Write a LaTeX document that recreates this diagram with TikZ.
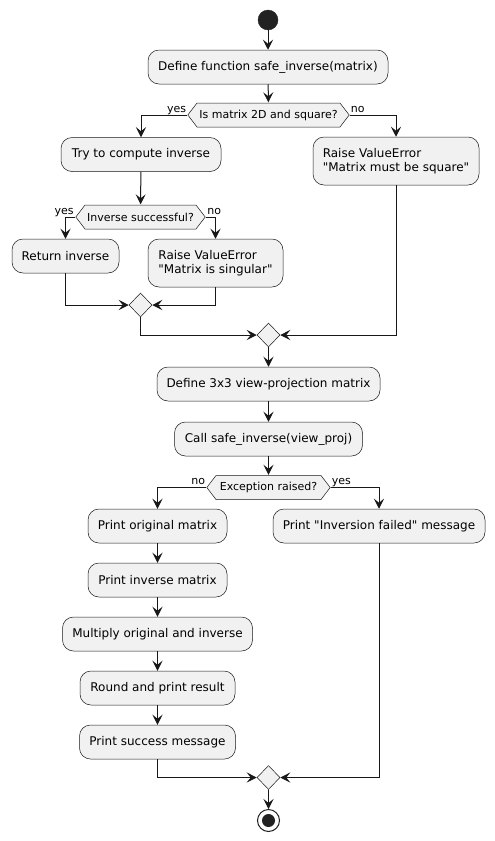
\documentclass[tikz,border=0pt]{standalone}
\usepackage{fontspec}
\setmainfont{DejaVu Sans}[Ligatures=TeXOff]
\usetikzlibrary{arrows.meta,shapes.geometric}
\definecolor{boxfill}{HTML}{F1F1F1}
\definecolor{linec}{HTML}{181818}
\definecolor{dotc}{HTML}{222222}
\newcommand\boxfont{\fontsize{12}{14}\selectfont}
\newcommand\dfont{\fontsize{11}{13}\selectfont}
\tikzset{
  act/.style={draw=linec, line width=0.5pt, fill=boxfill, rounded corners=11pt,
    minimum height=34pt, inner xsep=8pt, inner ysep=0pt, font=\boxfont, align=left, text=black},
  hexa/.style={font=\dfont, inner sep=0pt, minimum height=25pt, text=black,
    path picture={
      \path[draw=linec, fill=boxfill, line width=0.5pt]
        ([xshift=0.3pt]path picture bounding box.west)
        -- ([xshift=9.5pt,yshift=-0.5pt]path picture bounding box.north west)
        -- ([xshift=-9.5pt,yshift=-0.5pt]path picture bounding box.north east)
        -- ([xshift=-0.3pt]path picture bounding box.east)
        -- ([xshift=-9.5pt,yshift=0.5pt]path picture bounding box.south east)
        -- ([xshift=9.5pt,yshift=0.5pt]path picture bounding box.south west)
        -- cycle;}},
  merge/.style={diamond, draw=linec, line width=0.5pt, fill=boxfill, inner sep=0pt,
    minimum width=23pt, minimum height=24pt},
  startnode/.style={circle, fill=dotc, draw=dotc, minimum size=20pt, inner sep=0pt},
  endnode/.style={circle, draw=dotc, line width=1pt, fill=white, minimum size=22pt, inner sep=0pt,
    path picture={\fill[dotc] (path picture bounding box.center) circle (6.5pt);}},
  arr/.style={draw=linec, line width=1pt, -{Stealth[length=10pt,width=10pt,inset=4pt]}},
  lbl/.style={font=\dfont, inner sep=0pt, text=black}
}
\begin{document}
\begin{tikzpicture}[x=1pt,y=-1pt]
\useasboundingbox[fill=white] (0,0) rectangle (495,841);

\node[startnode] (start) at (268,20) {};
\node[act, minimum width=240pt] (b1) at (268,67) {Define function safe\_inverse(matrix)};
\node[hexa, minimum width=162pt] (d1) at (268.5,115) {Is matrix 2D and square?};
\node[act, minimum width=160pt] (b2) at (141,154.5) {Try to compute inverse};
\node[act, minimum width=166pt, minimum height=48pt] (bsq) at (396,161) {Raise ValueError\\"Matrix must be square"};
\node[hexa, minimum width=130pt] (d2) at (140.5,217) {Inverse successful?};
\node[act, minimum width=107pt] (b3) at (65.5,256) {Return inverse};
\node[act, minimum width=135pt, minimum height=48pt] (b4) at (215.5,263) {Raise ValueError\\"Matrix is singular"};
\node[merge] (m1) at (140.5,305) {};
\node[merge] (m2) at (268.5,335) {};
\node[act, minimum width=223pt] (b5) at (268.5,384) {Define 3x3 view-projection matrix};
\node[act, minimum width=188pt] (b6) at (268.5,439) {Call safe\_inverse(view\_proj)};
\node[hexa, minimum width=124pt] (d3) at (268.5,487.5) {Exception raised?};
\node[act, minimum width=139pt] (b7) at (157.5,526) {Print original matrix};
\node[act, minimum width=212pt] (b8) at (379,526) {Print "Inversion failed" message};
\node[act, minimum width=139pt] (b9) at (157.5,580) {Print inverse matrix};
\node[act, minimum width=190pt] (b10) at (157.5,634) {Multiply original and inverse};
\node[act, minimum width=155pt] (b11) at (157.5,688) {Round and print result};
\node[act, minimum width=156pt] (b12) at (157.5,742) {Print success message};
\node[merge] (m3) at (268.5,777.5) {};
\node[endnode] (end) at (268.5,820.5) {};

% labels
\node[lbl, anchor=base east] (l1y) at ([xshift=-1pt,yshift=3pt]d1.west) {yes};
\node[lbl, anchor=base west] (l1n) at ([xshift=1pt,yshift=3pt]d1.east) {no};
\node[lbl, anchor=base east] (l2y) at ([xshift=-1.5pt,yshift=3pt]d2.west) {yes};
\node[lbl, anchor=base west] (l2n) at ([xshift=1.5pt,yshift=3pt]d2.east) {no};
\node[lbl, anchor=base east] (l3n) at ([xshift=-1pt,yshift=3pt]d3.west) {no};
\node[lbl, anchor=base west] (l3y) at ([xshift=1pt,yshift=3pt]d3.east) {yes};

% connectors
\draw[arr] (start) -- (b1);
\draw[arr] (b1) -- (d1);
\draw[arr] (d1.west) -| (b2.north);
\draw[arr] (d1.east) -| (bsq.north);
\draw[arr] (b2) -- (d2);
\draw[arr] (d2.west) -| (b3.north);
\draw[arr] (d2.east) -| (b4.north);
\draw[arr] (b3.south) |- (m1.west);
\draw[arr] (b4.south) |- (m1.east);
\draw[arr] (m1.south) |- (m2.west);
\draw[arr] (bsq.south) |- (m2.east);
\draw[arr] (m2) -- (b5);
\draw[arr] (b5) -- (b6);
\draw[arr] (b6) -- (d3);
\draw[arr] (d3.west) -| (b7.north);
\draw[arr] (d3.east) -| (b8.north);
\draw[arr] (b7) -- (b9);
\draw[arr] (b9) -- (b10);
\draw[arr] (b10) -- (b11);
\draw[arr] (b11) -- (b12);
\draw[arr] (b12.south) |- (m3.west);
\draw[arr] (b8.south) |- (m3.east);
\draw[arr] (m3) -- (end);
\end{tikzpicture}
\end{document}
